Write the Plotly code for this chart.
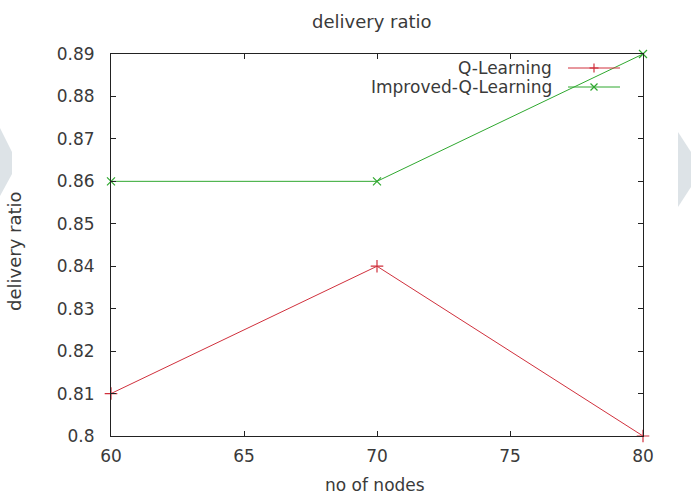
import plotly.graph_objects as go

# Data
nodes = [60, 70, 80]
q_learning = [0.81, 0.84, 0.80]
improved_q_learning = [0.86, 0.86, 0.89]

x_ticks = [60, 65, 70, 75, 80]
y_ticks = [0.80, 0.81, 0.82, 0.83, 0.84, 0.85, 0.86, 0.87, 0.88, 0.89]
y_tick_text = ["0.8", "0.81", "0.82", "0.83", "0.84", "0.85", "0.86", "0.87", "0.88", "0.89"]

RED = "#d0303c"
GREEN = "#2fa82f"
TEXT = "#3a3a3a"
FONT = "DejaVu Sans"

W, H = 691, 494
L, R, T, B = 111, 48, 54, 58
PW, PH = W - L - R, H - T - B


def px(x):
    return (x - L) / PW


def py(y):
    return (H - B - y) / PH


fig = go.Figure()
fig.add_trace(go.Scatter(
    x=nodes, y=q_learning, mode="lines+markers", name="Q-Learning",
    line=dict(color=RED, width=1),
    marker=dict(symbol="cross-thin", size=9, line=dict(color=RED, width=1.2)),
    cliponaxis=False, showlegend=False,
))
fig.add_trace(go.Scatter(
    x=nodes, y=improved_q_learning, mode="lines+markers", name="Improved-Q-Learning",
    line=dict(color=GREEN, width=1),
    marker=dict(symbol="x-thin", size=8, line=dict(color=GREEN, width=1.2)),
    cliponaxis=False, showlegend=False,
))

shapes = []
# faint background decorations at the page edges
shapes.append(dict(
    type="path", xref="paper", yref="paper", layer="below",
    path="M {} {} L {} {} L {} {} L {} {} Z".format(
        px(0), py(128), px(12), py(152), px(12), py(174), px(0), py(196)),
    fillcolor="#dde3e7", line=dict(width=0),
))
shapes.append(dict(
    type="path", xref="paper", yref="paper", layer="below",
    path="M {} {} L {} {} L {} {} L {} {} Z".format(
        px(678), py(132), px(691), py(152), px(691), py(187), px(678), py(207)),
    fillcolor="#dde3e7", line=dict(width=0),
))

# key: text on the left, sample line with point on the right
legend_items = [("Q-Learning", RED, "plus", 68), ("Improved-Q-Learning", GREEN, "x", 87)]
annotations = []
for label, color, sym, yy in legend_items:
    annotations.append(dict(
        x=px(554), y=py(yy), xref="paper", yref="paper", text=label,
        showarrow=False, xanchor="right", yanchor="middle",
        font=dict(family=FONT, size=17, color=TEXT),
    ))
    shapes.append(dict(type="line", xref="paper", yref="paper",
                       x0=px(568), x1=px(620), y0=py(yy), y1=py(yy),
                       line=dict(color=color, width=1)))
    cx, cy = 594, yy
    if sym == "plus":
        segs = [(cx - 4.5, cy, cx + 4.5, cy), (cx, cy - 4.5, cx, cy + 4.5)]
    else:
        segs = [(cx - 3.5, cy - 3.5, cx + 3.5, cy + 3.5), (cx - 3.5, cy + 3.5, cx + 3.5, cy - 3.5)]
    for x0, y0, x1, y1 in segs:
        shapes.append(dict(type="line", xref="paper", yref="paper",
                           x0=px(x0), x1=px(x1), y0=py(y0), y1=py(y1),
                           line=dict(color=color, width=1.2)))

# titles
annotations.append(dict(
    x=px(372), y=py(22), xref="paper", yref="paper", text="delivery ratio",
    showarrow=False, xanchor="center", yanchor="middle",
    font=dict(family=FONT, size=18, color=TEXT),
))
annotations.append(dict(
    x=px(375), y=py(485), xref="paper", yref="paper", text="no of nodes",
    showarrow=False, xanchor="center", yanchor="middle",
    font=dict(family=FONT, size=17, color=TEXT),
))
annotations.append(dict(
    x=px(14), y=py(251), xref="paper", yref="paper", text="delivery ratio",
    showarrow=False, xanchor="center", yanchor="middle", textangle=-90,
    font=dict(family=FONT, size=18, color=TEXT),
))

axis_common = dict(
    showgrid=False, zeroline=False, showline=True, linecolor="#222222", linewidth=1,
    mirror="ticks", ticks="inside", ticklen=5, tickcolor="#222222", tickwidth=1,
    tickfont=dict(family=FONT, size=17, color=TEXT),
)

fig.update_layout(
    width=W, height=H,
    margin=dict(l=L, r=R, t=T, b=B),
    paper_bgcolor="white", plot_bgcolor="white",
    xaxis=dict(range=[60, 80], tickvals=x_ticks, ticklabelstandoff=5, **axis_common),
    yaxis=dict(range=[0.80, 0.89], tickvals=y_ticks, ticktext=y_tick_text,
               ticklabelstandoff=12, **axis_common),
    shapes=shapes, annotations=annotations, showlegend=False,
)

fig.write_html("out.html")
